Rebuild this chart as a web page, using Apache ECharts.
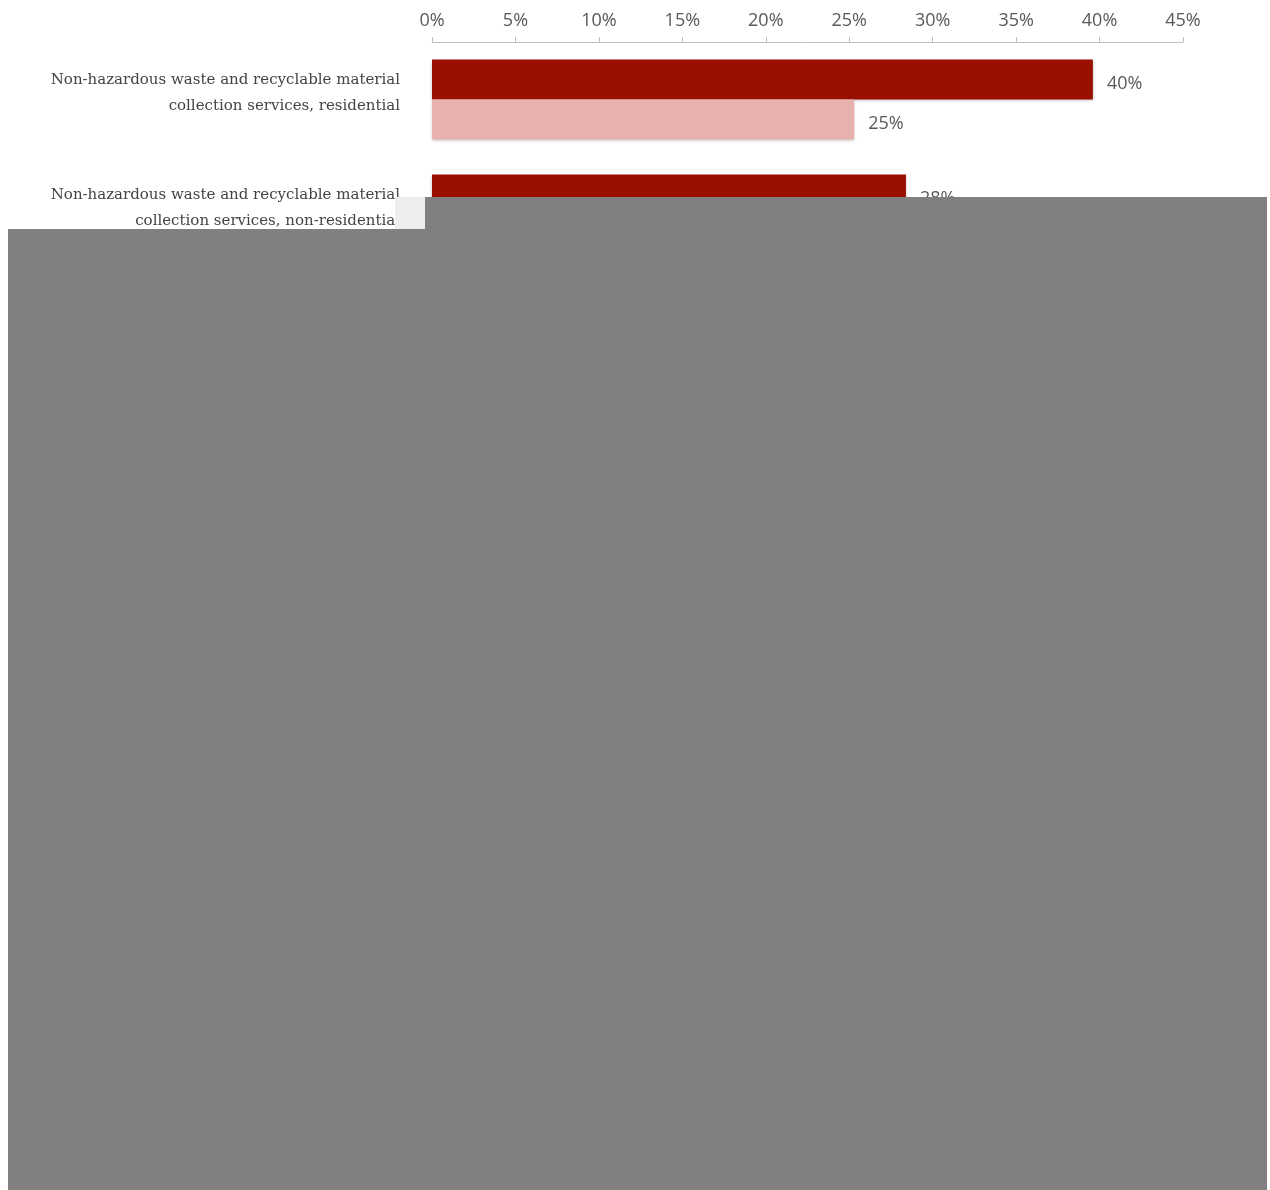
<!DOCTYPE html>
<html>
<head>
<meta charset="utf-8">
<script src="https://cdn.jsdelivr.net/npm/echarts@6/dist/echarts.min.js"></script>
<style>
  html, body { margin: 0; padding: 0; background: #fff; }
  #chart { width: 1270px; height: 1190px; }
</style>
</head>
<body>
<div id="chart"></div>
<script>
// categories visible above the grey mask (the rest of the chart is hidden)
let categories = [
	"Non-hazardous waste and recyclable material\ncollection services, residential",
	"Non-hazardous waste and recyclable material\ncollection services, non-residential"
];
// dark series / light series
let darkValues = [39.6, 28.4];
let lightValues = [25.3, null]; // second light bar is covered by the mask
let tickLabels = ["0%", "5%", "10%", "15%", "20%", "25%", "30%", "35%", "40%", "45%"];

let darkColour = "#9b0f00";
let lightColour = "#e6b1af";
let textGrey = "#595959";

var myChart = echarts.init(document.getElementById("chart"));

function pctLabel(p)
{
	return Math.round(p.value) + "%";
}

let option = {
	animation: false,
	backgroundColor: "#ffffff",
	grid: {
		left: 432,
		right: 87,
		top: 42,
		height: 230
	},
	xAxis: {
		type: "value",
		position: "top",
		min: 0,
		max: 45,
		interval: 5,
		axisLine: { show: true, lineStyle: { color: "#bfbfbf", width: 1 } },
		axisTick: { show: true, length: 5, lineStyle: { color: "#bfbfbf" } },
		splitLine: { show: false },
		axisLabel: {
			margin: 12,
			color: textGrey,
			fontFamily: "Open Sans",
			fontSize: 18,
			formatter: function (v) { return tickLabels[Math.round(v / 5)]; }
		}
	},
	yAxis: {
		type: "category",
		inverse: true,
		data: categories,
		axisLine: { show: false },
		axisTick: { show: false },
		axisLabel: {
			margin: 32,
			align: "right",
			// the two text lines sit a little above the bar pair's centre
			formatter: function (v) {
				let lines = v.split("\n");
				return "{t|" + lines[0] + "}\n{t|" + lines[1] + "}\n{s|}";
			},
			rich: {
				t: {
					color: "#444444",
					fontFamily: "DejaVu Serif",
					fontSize: 15,
					lineHeight: 26,
					align: "right"
				},
				s: {
					fontSize: 10,
					lineHeight: 12
				}
			}
		}
	},
	series: [
		{
			type: "bar",
			data: darkValues,
			barWidth: 40,
			barGap: "0%",
			barCategoryGap: "30%",
			itemStyle: {
				color: darkColour,
				shadowColor: "rgba(0,0,0,0.25)",
				shadowBlur: 3,
				shadowOffsetY: 1
			},
			label: {
				show: true,
				position: "right",
				distance: 14,
				offset: [0, 4],
				color: textGrey,
				fontFamily: "Open Sans",
				fontSize: 18,
				formatter: pctLabel
			}
		},
		{
			type: "bar",
			data: lightValues,
			barWidth: 40,
			itemStyle: {
				color: lightColour,
				shadowColor: "rgba(0,0,0,0.25)",
				shadowBlur: 3,
				shadowOffsetY: 1
			},
			label: {
				show: true,
				position: "right",
				distance: 14,
				offset: [0, 4],
				color: textGrey,
				fontFamily: "Open Sans",
				fontSize: 18,
				formatter: pctLabel
			}
		}
	],
	// grey mask that hides the rest of the original picture
	graphic: [
		{ type: "rect", z: 100, shape: { x: 395, y: 197, width: 30, height: 32 }, style: { fill: "#eeeeee" } },
		{ type: "rect", z: 101, shape: { x: 425, y: 197, width: 842, height: 32 }, style: { fill: "#808080" } },
		{ type: "rect", z: 101, shape: { x: 8, y: 229, width: 1259, height: 961 }, style: { fill: "#808080" } }
	]
};

myChart.setOption(option);
</script>
</body>
</html>
